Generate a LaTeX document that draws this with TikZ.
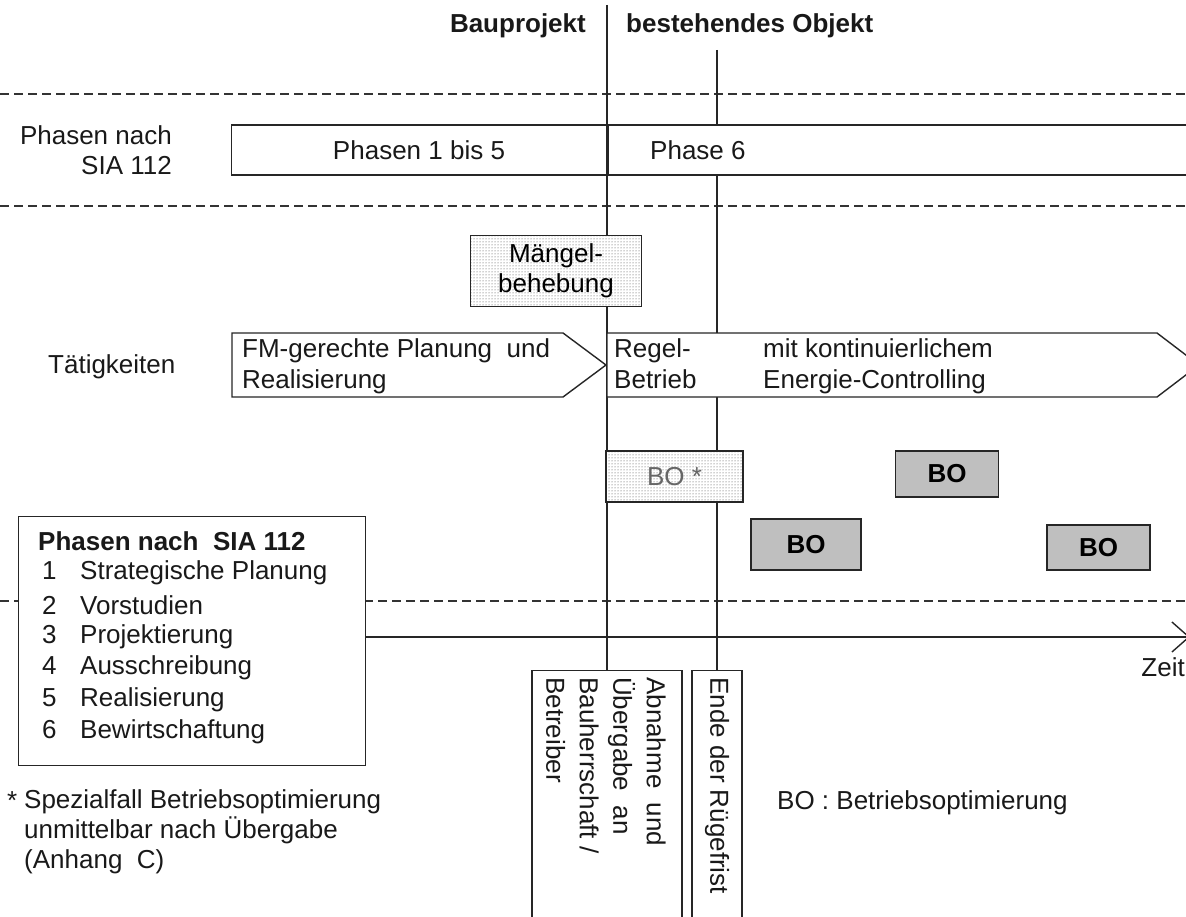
\documentclass[tikz,border=0pt]{standalone}
\usepackage{fontspec}
\setmainfont{Liberation Sans}
\usetikzlibrary{patterns,arrows.meta}
\begin{document}
\begin{tikzpicture}[x=1pt,y=-1pt,font=\fontsize{26}{31}\selectfont]
			\tikzset{rule/.style={line width=1.4pt, draw=black!85}};
			\tikzset{sep/.style={line width=1.3pt, draw=black!80, dash pattern=on 9pt off 5pt}};
			\tikzset{box/.style={rectangle, rule, fill=white, inner sep=0pt}};
			\tikzset{dotbox/.style={box, preaction={fill=white}, pattern=dots, pattern color=black!75}};
			\tikzset{bobox/.style={box, fill=black!25, font=\fontsize{26}{31}\selectfont\bfseries}};
			\tikzset{txt/.style={inner sep=0pt, text=black!90}};
			\useasboundingbox (0,0) rectangle (1186,917);
			\clip (0,0) rectangle (1186,917);

			% separators
			\coordinate (s1a) at (0,94);
			\coordinate (s1b) at (1186,94);
			\coordinate (s2a) at (0,206);
			\coordinate (s2b) at (1186,206);
			\coordinate (s3a) at (0,601);
			\coordinate (s3b) at (1186,601);
			\draw[sep] (s1a) -- (s1b);
			\draw[sep] (s2a) -- (s2b);
			\draw[sep] (s3a) -- (s3b);

			% milestones at the bottom
			\node[box, minimum width=150pt, minimum height=300pt, anchor=north] (abnahme) at (607,670) {};
			\node[box, minimum width=50pt, minimum height=300pt, anchor=north] (ende) at (717,670) {};
			\coordinate (topA) at (607,5);
			\coordinate (topB) at (717,50);
			\draw[rule] (topA) -- (abnahme.north);
			\draw[rule] (topB) -- (ende.north);

			% header
			\node[txt, anchor=east, font=\fontsize{26}{31}\selectfont\bfseries] (bau) at (586,26) {Bauprojekt};
			\node[txt, anchor=west, font=\fontsize{26}{31}\selectfont\bfseries] (best) at (626,26) {bestehendes Objekt};

			% phases
			\node[txt, anchor=east, align=right, font=\fontsize{26}{30}\selectfont] (phlabel) at (172,150) {Phasen nach\\SIA 112};
			\node[box, minimum width=375pt, minimum height=50pt] (ph15) at (419,150) {};
			\node[box, minimum width=594pt, minimum height=50pt, anchor=west] (ph6) at (ph15.east) {};
			\node[txt] at (ph15) {Phasen 1 bis 5};
			\node[txt, anchor=west] at (650,150) {Phase 6};

			% activities
			\node[dotbox, minimum width=171pt, minimum height=71pt, align=center, font=\fontsize{26}{30}\selectfont] (maengel) at (556,271) {M\"angel-\\behebung};
			\node[txt, anchor=west] (taet) at (48,367) {T\"atigkeiten};
			\draw[rule, fill=white] (232,333) -- (563,333) -- (606,365) -- (563,397) -- (232,397) -- cycle;
			\draw[rule, fill=white] (607,333) -- (1157,333) -- (1199,365) -- (1157,397) -- (607,397) -- cycle;
			\node[txt, anchor=north west, align=left] (fm) at (242,338) {FM-gerechte Planung\ \ und\\Realisierung};
			\node[txt, anchor=north west, align=left] (regel) at (614,338) {Regel-\\Betrieb};
			\node[txt, anchor=north west, align=left] (energie) at (763,338) {mit kontinuierlichem\\Energie-Controlling};

			% Betriebsoptimierungen
			\node[dotbox, minimum width=137pt, minimum height=51pt, text=black!60] (bostar) at (674.5,476.5) {BO *};
			\node[bobox, minimum width=103pt, minimum height=46pt] (bo1) at (947,474) {BO};
			\node[bobox, minimum width=110pt, minimum height=51pt] (bo2) at (806,544.5) {BO};
			\node[bobox, minimum width=103pt, minimum height=45pt] (bo3) at (1098.5,547.5) {BO};

			% legend and time axis
			\node[box, minimum width=347pt, minimum height=249pt, anchor=north west] (legend) at (18,516) {};
			\coordinate (axisA) at (365,637);
			\coordinate (axisB) at (1190,637);
			\draw[rule, -{Straight Barb[length=17pt, width=30pt]}] (axisA) -- (axisB);
			\node[txt, anchor=east] (zeit) at (1185,667) {Zeit};
			\node[txt, anchor=west, font=\fontsize{26}{31}\selectfont\bfseries] (legtitle) at (38,541) {Phasen nach\ \ SIA 112};
			\node[txt, anchor=west] (leg1) at (42,573) {\makebox[38pt][l]{1}Strategische Planung};
			\node[txt, anchor=west] (leg2) at (42,605) {\makebox[38pt][l]{2}Vorstudien};
			\node[txt, anchor=west] (leg3) at (42,637) {\makebox[38pt][l]{3}Projektierung};
			\node[txt, anchor=west] (leg4) at (42,668) {\makebox[38pt][l]{4}Ausschreibung};
			\node[txt, anchor=west] (leg5) at (42,700) {\makebox[38pt][l]{5}Realisierung};
			\node[txt, anchor=west] (leg6) at (42,732) {\makebox[38pt][l]{6}Bewirtschaftung};

			% milestone texts
			\node[txt, rotate=-90, anchor=north west, align=left, font=\fontsize{26}{33.5}\selectfont] (abtext) at (666,677) {Abnahme\ \ und\\\"Ubergabe\ \ an\\Bauherrschaft /\\Betreiber};
			\node[txt, rotate=-90, anchor=west] (endetext) at (717,677) {Ende der R\"ugefrist};

			% notes
			\node[txt, anchor=north west] (star) at (7,791) {*};
			\node[txt, anchor=north west, align=left, font=\fontsize{26}{30}\selectfont] (note) at (24,789) {Spezialfall Betriebsoptimierung\\unmittelbar nach \"Ubergabe\\(Anhang\ \ C)};
			\node[txt, anchor=west] (boleg) at (777,803) {BO : Betriebsoptimierung};
		\end{tikzpicture}
\end{document}
